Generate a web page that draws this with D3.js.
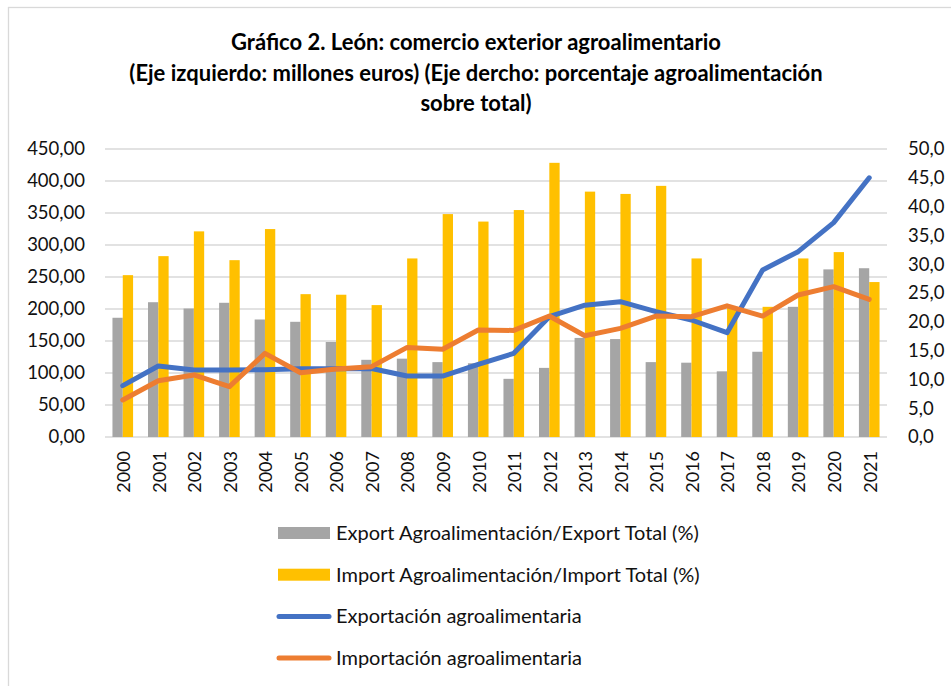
<!DOCTYPE html>
<html>
<head>
<meta charset="utf-8">
<script src="https://cdn.jsdelivr.net/npm/d3@7"></script>
<style>
  body { margin: 0; background: #fff; }
  svg { display: block; font-family: Lato, "Open Sans", sans-serif; }
</style>
</head>
<body>
<svg></svg>
<script>
// data
const years = ["2000","2001","2002","2003","2004","2005","2006","2007","2008","2009","2010",
               "2011","2012","2013","2014","2015","2016","2017","2018","2019","2020","2021"];
// bars, right axis (%)
const exportPct = [20.7,23.4,22.3,23.3,20.4,20.0,16.5,13.4,13.6,13.0,12.8,10.1,12.0,17.2,17.0,13.0,12.9,11.4,14.8,22.6,29.1,29.3];
const importPct = [28.1,31.4,35.7,30.7,36.1,24.8,24.7,22.9,31.0,38.7,37.4,39.4,47.6,42.6,42.2,43.6,31.0,22.6,22.6,31.0,32.1,26.9];
// lines, left axis (millones euros)
const exportMill = [80.2,111,104.7,104.7,105,106.8,106.8,107,95.3,95.3,113.5,130.7,188,206,211.4,195.8,182.8,163,261,289.6,334.9,405];
const importMill = [57.8,88,96.9,78.6,130.7,100.5,106.2,109.9,140,137,167.2,166.5,189,158.3,169.8,189,188,205,189,221.9,234.9,215];

const leftTicks = [0,50,100,150,200,250,300,350,400,450];
const rightTicks = [0,5,10,15,20,25,30,35,40,45,50];

const titleLines = [
  "Gráfico 2. León: comercio exterior agroalimentario",
  "(Eje izquierdo: millones euros) (Eje dercho: porcentaje agroalimentación",
  "sobre total)"
];

const legendItems = [
  { label: "Export Agroalimentación/Export Total (%)", color: "#A5A5A5", type: "bar" },
  { label: "Import Agroalimentación/Import Total (%)", color: "#FFC000", type: "bar" },
  { label: "Exportación agroalimentaria", color: "#4472C4", type: "line" },
  { label: "Importación agroalimentaria", color: "#ED7D31", type: "line" }
];

const width = 951, height = 686;
const plot = { left: 105, right: 887, top: 149, bottom: 437 };
const textColor = "#111";

const svg = d3.select("svg").attr("width", width).attr("height", height);

// chart border
svg.append("rect")
  .attr("x", 8.5).attr("y", 7.5)
  .attr("width", 960).attr("height", 700)
  .attr("fill", "none").attr("stroke", "#D9D9D9").attr("stroke-width", 1.3);

// title
svg.append("g").selectAll("text")
  .data(titleLines)
  .enter().append("text")
  .attr("x", 476)
  .attr("y", (d, i) => 50 + i * 30.5)
  .attr("text-anchor", "middle")
  .style("font-weight", "bold")
  .style("font-size", "22px")
  .attr("fill", "#000")
  .text(d => d);

// scales
const x0 = d3.scaleBand().domain(years).range([plot.left, plot.right])
  .paddingInner(0.42).paddingOuter(0.21);
const x1 = d3.scaleBand().domain(["exp", "imp"]).range([0, x0.bandwidth()]);
const yLeft = d3.scaleLinear().domain([0, 450]).range([plot.bottom, plot.top]);
const yRight = d3.scaleLinear().domain([0, 50]).range([plot.bottom, plot.top]);
const xc = d => x0(d) + x0.bandwidth() / 2;

// gridlines
svg.append("g").selectAll("line")
  .data(leftTicks)
  .enter().append("line")
  .attr("x1", plot.left).attr("x2", plot.right)
  .attr("y1", d => yLeft(d)).attr("y2", d => yLeft(d))
  .attr("stroke", "#D9D9D9").attr("stroke-width", 1.3);

// left axis
const fmt2 = d => d.toFixed(2).replace(".", ",");
const fmt1 = d => d.toFixed(1).replace(".", ",");
const leftAxis = svg.append("g")
  .attr("transform", `translate(${plot.left - 20},0)`)
  .call(d3.axisLeft(yLeft).tickValues(leftTicks).tickFormat(fmt2).tickSize(0).tickPadding(0));
leftAxis.select(".domain").remove();
leftAxis.selectAll("text").style("font-size", "18.5px").attr("fill", textColor)
  .style("font-family", "Lato, sans-serif");

// right axis
const rightAxis = svg.append("g")
  .attr("transform", `translate(${plot.right + 21},0)`)
  .call(d3.axisRight(yRight).tickValues(rightTicks).tickFormat(fmt1).tickSize(0).tickPadding(0));
rightAxis.select(".domain").remove();
rightAxis.selectAll("text").style("font-size", "18.5px").attr("fill", textColor)
  .style("font-family", "Lato, sans-serif");

// bars
const rows = years.map((y, i) => ({ year: y, exp: exportPct[i], imp: importPct[i] }));
const barColor = { exp: "#A5A5A5", imp: "#FFC000" };
svg.append("g").selectAll("g")
  .data(rows)
  .enter().append("g")
  .attr("transform", d => `translate(${x0(d.year)},0)`)
  .selectAll("rect")
  .data(d => ["exp", "imp"].map(k => ({ key: k, value: d[k] })))
  .enter().append("rect")
  .attr("x", d => x1(d.key))
  .attr("width", x1.bandwidth())
  .attr("y", d => yRight(d.value))
  .attr("height", d => yRight(0) - yRight(d.value))
  .attr("fill", d => barColor[d.key]);

// x axis
const xAxis = svg.append("g")
  .attr("transform", `translate(0,${plot.bottom})`)
  .call(d3.axisBottom(x0).tickSize(0).tickPadding(0));
xAxis.select(".domain").remove();
xAxis.selectAll("text")
  .attr("transform", "rotate(-90)")
  .attr("x", -14).attr("y", 1).attr("dy", "0.35em")
  .style("text-anchor", "end")
  .style("font-size", "18px")
  .style("font-family", "Lato, sans-serif")
  .attr("fill", textColor);

// lines
const line = d3.line().x((d, i) => xc(years[i])).y(d => yLeft(d));
[[exportMill, "#4472C4"], [importMill, "#ED7D31"]].forEach(([vals, c]) => {
  svg.append("path")
    .datum(vals)
    .attr("d", line)
    .attr("fill", "none")
    .attr("stroke", c)
    .attr("stroke-width", 5)
    .attr("stroke-linejoin", "round")
    .attr("stroke-linecap", "round");
});

// legend
const legend = svg.append("g").selectAll("g")
  .data(legendItems)
  .enter().append("g")
  .attr("transform", (d, i) => `translate(0,${533 + i * 41.7})`);
legend.filter(d => d.type === "bar").append("rect")
  .attr("x", 278).attr("y", -6).attr("width", 52).attr("height", 12)
  .attr("fill", d => d.color);
legend.filter(d => d.type === "line").append("line")
  .attr("x1", 279).attr("x2", 329).attr("y1", 0).attr("y2", 0)
  .attr("stroke", d => d.color).attr("stroke-width", 5).attr("stroke-linecap", "round");
legend.append("text")
  .attr("x", 336).attr("y", 0).attr("dy", "0.35em")
  .style("font-size", "20px")
  .attr("fill", textColor)
  .text(d => d.label);
</script>
</body>
</html>
